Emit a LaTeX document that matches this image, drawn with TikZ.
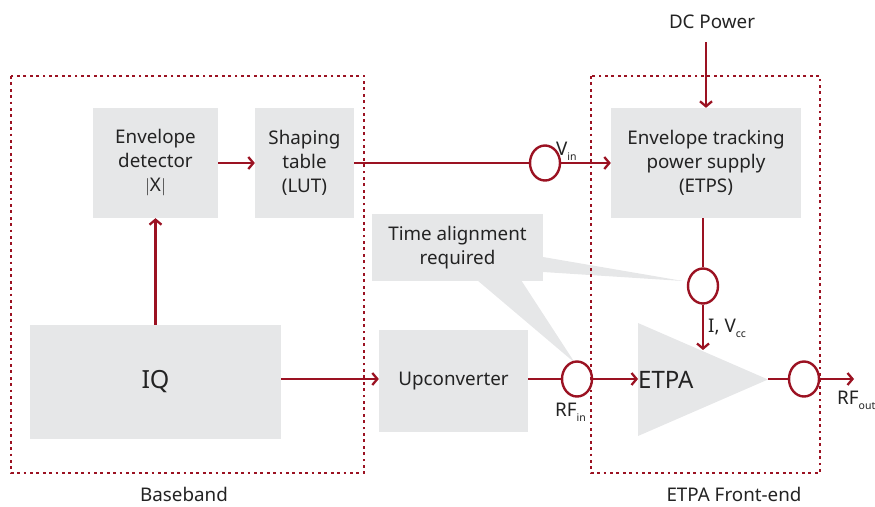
\documentclass[tikz,border=0pt]{standalone}
\usepackage{fontspec}
\setmainfont{Noto Sans}
\usetikzlibrary{arrows.meta,shapes.geometric}
\definecolor{kred}{RGB}{155,18,34}
\definecolor{kgray}{RGB}{230,231,232}
\definecolor{ktext}{RGB}{35,35,35}
\newcommand{\sbs}[1]{{\fontsize{10.5}{10.5}\selectfont\raisebox{-5pt}{#1}}}
\begin{document}
\begin{tikzpicture}[x=1pt,y=-1pt,
  blk/.style={fill=kgray,draw=none,inner sep=0pt,align=center,text=ktext,font=\fontsize{18.8}{24}\selectfont},
  lbl/.style={inner sep=0pt,text=ktext,font=\fontsize{18.8}{22}\selectfont},
  dotbox/.style={draw=kred,line width=2.8pt,dash pattern=on 2.8pt off 3.6pt},
  conn/.style={draw=kred,line width=2.3pt},
  arr/.style={conn,-{Straight Barb[length=5pt,width=12pt,line width=2.3pt]}},
  ell/.style={ellipse,draw=kred,line width=2.4pt,minimum width=30pt,minimum height=35pt,inner sep=0pt},
  tail/.style={fill=kgray,draw=none}]
\useasboundingbox (0,0) rectangle (875,506);
% callout tails
\fill[tail] (543,257) -- (683,281) -- (543,272) -- cycle;
\fill[tail] (477,280) -- (575,363) -- (521,280) -- cycle;
% blocks
\node[blk,minimum width=125pt,minimum height=110pt] (envdet) at (155.5,163) {Envelope\\detector\\$|$X$|$};
\node[blk,minimum width=99pt,minimum height=110pt] (shaping) at (304.5,163) {Shaping\\table\\(LUT)};
\node[blk,minimum width=190pt,minimum height=110pt] (etps) at (706,163) {Envelope tracking\\power supply\\(ETPS)};
\node[blk,minimum width=251pt,minimum height=114pt,font=\fontsize{25}{28}\selectfont] (iq) at (155.5,382) {IQ};
\node[blk,minimum width=149pt,minimum height=102pt] (upconv) at (453.5,381) {Upconverter};
\node[blk,minimum width=171pt,minimum height=67pt] (callout) at (457.5,247.5) {Time alignment\\required};
% ETPA triangle
\fill[kgray] (638,323) -- (768,379.5) -- (638,436) -- cycle;
\coordinate (etpaL) at (638,379);
\coordinate (etpaR) at (768,379);
\coordinate (etpaT) at (703,350);
\node[lbl,anchor=west,font=\fontsize{24}{26}\selectfont] (etpatxt) at (638,380) {ETPA};
% dotted boxes
\draw[dotbox] (11,76) rectangle (364,473);
\draw[dotbox] (591,76) rectangle (820,473);
% ellipses
\node[ell] (vin) at (545,163) {};
\node[ell] (rfin) at (577,379) {};
\node[ell] (ivcc) at (703,286) {};
\node[ell] (rfout) at (804,379) {};
% labels
\node[lbl] (dcp) at (712,22) {DC Power};
\coordinate (dcs) at (706,42);
\node[lbl,anchor=base] (bb) at (184,501) {Baseband};
\node[lbl,anchor=base] (fe) at (734,501) {ETPA Front-end};
\node[lbl,anchor=base west] (vinl) at (556,155) {V\sbs{in}};
\node[lbl,anchor=base west] (ivccl) at (708,332) {I, V\sbs{cc}};
\node[lbl,anchor=base west] (rfinl) at (555,416) {RF\sbs{in}};
\node[lbl,anchor=base west] (rfoutl) at (837,404) {RF\sbs{out}};
\coordinate (rfend) at (854,379);
% connectors
\draw[arr] (dcs) -- (dcs |- etps.north);
\draw[arr] (envdet.east) -- (shaping.west);
\draw[arr] (iq.north -| envdet.south) -- (envdet.south);
\draw[conn] (shaping.east) -- (vin.west);
\draw[arr] (vin.east) -- (etps.west);
\draw[conn] (etps.south -| ivcc.north) -- (ivcc.north);
\draw[arr] (ivcc.south) -- (etpaT);
\draw[arr] (iq.east |- 0,379) -- (upconv.west |- 0,379);
\draw[conn] (upconv.east |- rfin.west) -- (rfin.west);
\draw[arr] (rfin.east) -- (etpaL);
\draw[conn] (etpaR) -- (rfout.west);
\draw[arr] (rfout.east) -- (rfend);
\end{tikzpicture}
\end{document}
